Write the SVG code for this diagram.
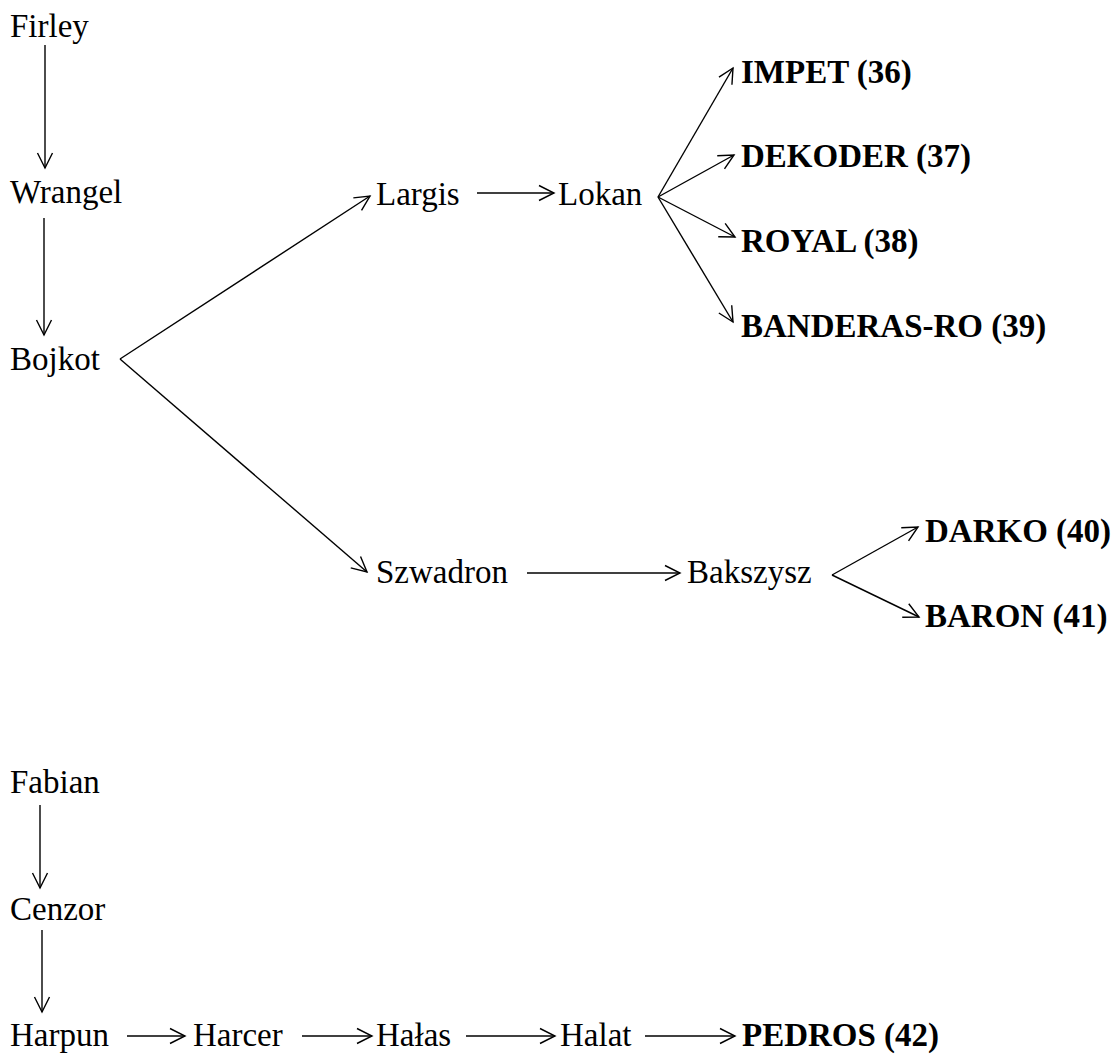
<svg xmlns="http://www.w3.org/2000/svg" width="1112" height="1054" viewBox="0 0 1112 1054">
<style>
text{font-size:33px;fill:#000}
.b{font-weight:bold}
.c line{stroke:#000;stroke-width:1.4;marker-end:url(#ah)}
</style>
<defs>
<marker id="ah" markerUnits="userSpaceOnUse" markerWidth="18" markerHeight="18" viewBox="0 0 18 18" refX="16" refY="9" orient="auto">
<path d="M1,1.5 L16,9 L1,16.5" fill="none" stroke="#000" stroke-width="1.4"/>
</marker>
</defs>
<rect width="1112" height="1054" fill="#fff"/>
<g class="c" id="connectors">
<line x1="45" y1="45" x2="45" y2="168"/>
<line x1="44" y1="218" x2="44" y2="335"/>
<line x1="120" y1="359" x2="370" y2="196"/>
<line x1="120" y1="359" x2="367" y2="572"/>
<line x1="477" y1="193" x2="554" y2="193"/>
<line x1="658" y1="197" x2="733" y2="68"/>
<line x1="658" y1="197" x2="734" y2="155"/>
<line x1="658" y1="197" x2="735" y2="237"/>
<line x1="658" y1="197" x2="733" y2="322"/>
<line x1="527" y1="573" x2="680" y2="573"/>
<line x1="832" y1="575" x2="918" y2="527"/>
<line x1="832" y1="575" x2="919" y2="617"/>
<line x1="40" y1="805" x2="40" y2="888"/>
<line x1="42" y1="930" x2="42" y2="1012"/>
<line x1="127" y1="1036" x2="185" y2="1036"/>
<line x1="302" y1="1036" x2="372" y2="1036"/>
<line x1="466" y1="1036" x2="555" y2="1036"/>
<line x1="645" y1="1036" x2="735" y2="1036"/>
</g>
<g font-family="'Liberation Serif', 'Times New Roman', 'DejaVu Serif', serif">
<g id="n-firley"><text x="10" y="37">Firley</text></g>
<g id="n-wrangel"><text x="10" y="203">Wrangel</text></g>
<g id="n-bojkot"><text x="10" y="370">Bojkot</text></g>
<g id="n-largis"><text x="376" y="205">Largis</text></g>
<g id="n-lokan"><text x="558" y="205">Lokan</text></g>
<g id="n-impet"><text class="b" x="741" y="83">IMPET (36)</text></g>
<g id="n-dekoder"><text class="b" x="741" y="167">DEKODER (37)</text></g>
<g id="n-royal"><text class="b" x="741" y="252">ROYAL (38)</text></g>
<g id="n-banderas"><text class="b" x="741" y="337">BANDERAS-RO (39)</text></g>
<g id="n-szwadron"><text x="376" y="583">Szwadron</text></g>
<g id="n-bakszysz"><text x="687" y="583">Bakszysz</text></g>
<g id="n-darko"><text class="b" x="925" y="542">DARKO (40)</text></g>
<g id="n-baron"><text class="b" x="925" y="627">BARON (41)</text></g>
<g id="n-fabian"><text x="10" y="793">Fabian</text></g>
<g id="n-cenzor"><text x="10" y="920">Cenzor</text></g>
<g id="n-harpun"><text x="10" y="1046">Harpun</text></g>
<g id="n-harcer"><text x="193" y="1046">Harcer</text></g>
<g id="n-halas"><text x="376" y="1046">Hałas</text></g>
<g id="n-halat"><text x="560" y="1046">Halat</text></g>
<g id="n-pedros"><text class="b" x="742" y="1046">PEDROS (42)</text></g>
</g>
</svg>
